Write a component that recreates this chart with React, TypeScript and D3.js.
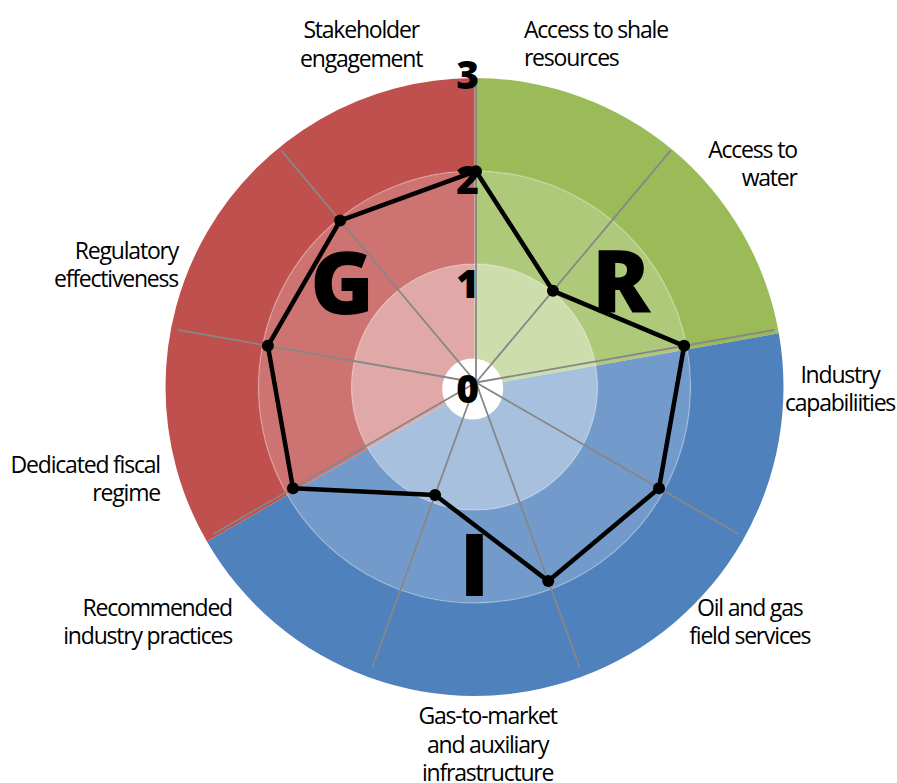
import React from 'react';
import * as d3 from 'd3';

// slice labels, clockwise from 12 o'clock (each slice is 40 degrees)
const categories = [
  'Access to shale\nresources',
  'Access to\nwater',
  'Industry\ncapabiliities',
  'Oil and gas\nfield services',
  'Gas-to-market\nand auxiliary\ninfrastructure',
  'Recommended\nindustry practices',
  'Dedicated fiscal\nregime',
  'Regulatory\neffectiveness',
  'Stakeholder\nengagement',
];
const sliceGroups = ['R', 'R', 'I', 'I', 'I', 'I', 'G', 'G', 'G'];
// radar score on the axis at the start of each slice
const scores = [2, 1, 2, 2, 2, 1, 2, 2, 2];
const groupNames = ['R', 'I', 'G'];
const tickValues = [0, 1, 2, 3];

const groupColors: Record<string, string> = { R: '#9BBB59', I: '#4F81BD', G: '#C0504D' };
const bandTint = [0.5, 0.2, 0]; // inner, middle, outer ring: share of white

const W = 897;
const H = 783;
const bg = { cx: 474.5, cy: 387 };
const rad = { cx: 476, cy: 382.5 };

// where the label blocks sit: angle (deg, clockwise from top), radius from bg centre, alignment
const labelLayout = [
  { a: 8.2, r: 346.6, align: 'start' },
  { a: 55.3, r: 392, align: 'end' },
  { a: 90.3, r: 365.5, align: 'middle' },
  { a: 130.5, r: 362, align: 'middle' },
  { a: 177.9, r: 358.2, align: 'middle' },
  { a: 225.9, r: 337.7, align: 'end' },
  { a: 253.7, r: 327.7, align: 'end' },
  { a: 292.4, r: 320.6, align: 'end' },
  { a: 341.7, r: 361, align: 'middle' },
];
const letterLayout: Record<string, { a: number; r: number }> = {
  R: { a: 54.6, r: 180 },
  I: { a: 180, r: 178.5 },
  G: { a: 308, r: 168 },
};

const polar = (c: { cx: number; cy: number }, deg: number, r: number) => {
  const t = (deg * Math.PI) / 180;
  return [c.cx + r * Math.sin(t), c.cy - r * Math.cos(t)];
};

const App = () => {
  const n = categories.length;
  const step = 360 / n;
  const bandR = d3.scaleLinear().domain([0, 3]).range([30, 309]);
  const rScale = d3.scaleLinear().domain([0, 3]).range([28, 303]);
  const tickY = d3.scaleLinear().domain([0, 3]).range([rad.cy + 20.5, rad.cy - 293.5]);
  const arc = d3.arc<any>();

  // angular extent of each group of slices
  const groupSpans = groupNames.map((g) => {
    const idx = sliceGroups.map((s, i) => (s === g ? i : -1)).filter((i) => i >= 0);
    return { g, start: d3.min(idx)! * step, end: (d3.max(idx)! + 1) * step };
  });

  const radarLine = d3
    .lineRadial<number>()
    .angle((d, i) => (i * step * Math.PI) / 180)
    .radius((d) => rScale(d))
    .curve(d3.curveLinearClosed);

  const font = '"Open Sans", "DejaVu Sans", sans-serif';
  const lh = 28.5;

  return (
    <svg width={W} height={H} style={{ position: 'absolute', left: 0, top: 0, background: '#fff' }}>
      <g transform={`translate(${bg.cx},${bg.cy})`}>
        {groupSpans.map((s) =>
          [0, 1, 2].map((b) => (
            <path
              key={s.g + b}
              d={arc({
                innerRadius: b === 0 ? 0 : bandR(b),
                outerRadius: bandR(b + 1),
                startAngle: (s.start * Math.PI) / 180,
                endAngle: (s.end * Math.PI) / 180,
              })!}
              fill={d3.interpolateRgb(groupColors[s.g], '#fff')(bandTint[b])}
            />
          ))
        )}
        <circle r={bandR(1)} fill="none" stroke="#fff" strokeOpacity={0.25} strokeWidth={1.5} />
        <circle r={bandR(2)} fill="none" stroke="#fff" strokeOpacity={0.25} strokeWidth={1.5} />
        <circle cx={-1.8} cy={2} r={bandR(0) + 0.5} fill="#fff" />
      </g>

      <g transform={`translate(${rad.cx},${rad.cy})`}>
        {scores.map((d, i) => {
          const [x, y] = polar({ cx: 0, cy: 0 }, i * step, rScale(3));
          return <line key={i} x1={0} y1={0} x2={x} y2={y} stroke="#878787" strokeWidth={1.8} />;
        })}
      </g>

      {tickValues.map((t) => (
        <text
          key={t}
          x={rad.cx + 3}
          y={tickY(t)}
          textAnchor="end"
          fontFamily={font}
          fontWeight={800}
          fontSize={39}
          fill="#000"
        >
          {t}
        </text>
      ))}

      <g transform={`translate(${rad.cx},${rad.cy})`}>
        <path d={radarLine(scores)!} fill="none" stroke="#000" strokeWidth={4.5} strokeLinejoin="round" />
        {scores.map((d, i) => {
          const [x, y] = polar({ cx: 0, cy: 0 }, i * step, rScale(d));
          return <circle key={i} cx={x} cy={y} r={6} fill="#000" />;
        })}
      </g>

      {groupNames.map((g) => {
        const [x, y] = polar(bg, letterLayout[g].a, letterLayout[g].r);
        return (
          <text
            key={g}
            x={x}
            y={y + 0.357 * 86}
            textAnchor="middle"
            fontFamily={font}
            fontWeight={800}
            fontSize={86}
            fill="#000"
          >
            {g}
          </text>
        );
      })}

      {categories.map((c, i) => {
        const L = labelLayout[i];
        const [x, y] = polar(bg, L.a, L.r);
        const lines = c.split('\n');
        const y0 = y - ((lines.length - 1) * lh) / 2 + 8;
        return (
          <text
            key={i}
            textAnchor={L.align}
            fontFamily={font}
            fontSize={23}
            letterSpacing={-1.2}
            fill="#000"
          >
            {lines.map((ln, k) => (
              <tspan key={k} x={x} y={y0 + k * lh}>
                {ln}
              </tspan>
            ))}
          </text>
        );
      })}
    </svg>
  );
};

export default App;
